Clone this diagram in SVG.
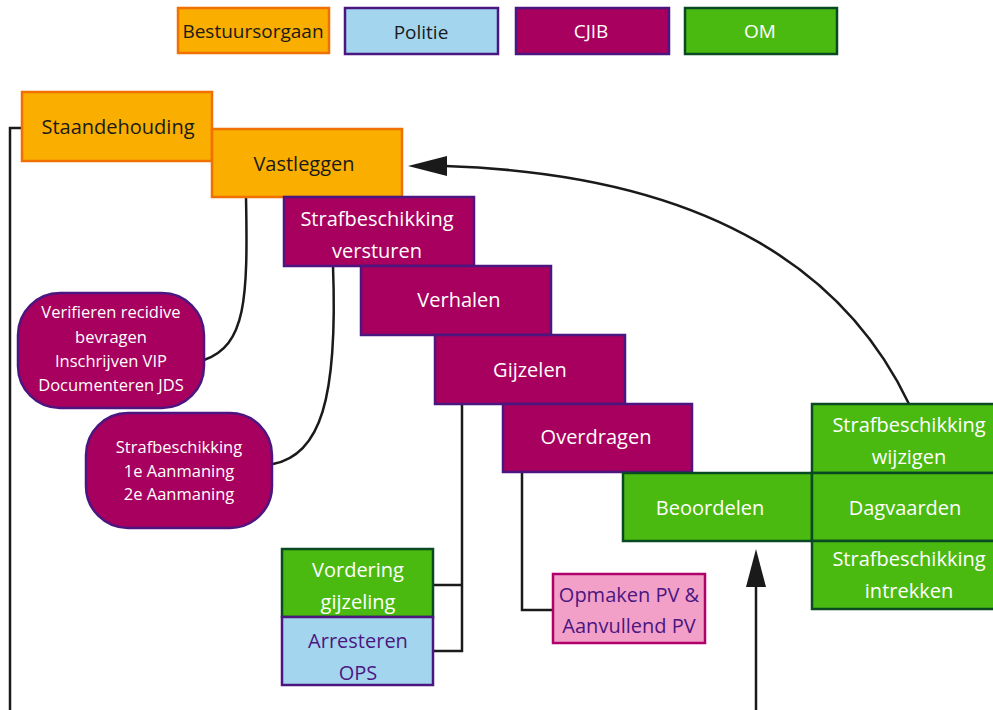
<svg xmlns="http://www.w3.org/2000/svg" width="993" height="710" viewBox="0 0 993 710">
<style>
text{font-family:"Open Sans","Noto Sans","Liberation Sans",sans-serif;font-size:20px;text-anchor:middle;dominant-baseline:central}
.sm{font-size:16.5px}
.lg{font-size:19px}
.or rect{fill:#F9AE00;stroke:#F07000;stroke-width:2.5}
.or text{fill:#1a1a1a}
.po rect{fill:#A3D6EE;stroke:#4B1680;stroke-width:2.5}
.po text{fill:#4B1680}
.cj rect{fill:#A8005E;stroke:#4B1680;stroke-width:2.5}
.cj text{fill:#fff}
.om rect{fill:#4BBA10;stroke:#0A4A22;stroke-width:2.5}
.om text{fill:#fff}
.pk rect{fill:#F2A0C8;stroke:#B0006A;stroke-width:2.5}
.pk text{fill:#4B1680}
.ln{fill:none;stroke:#1a1a1a;stroke-width:2.5}
.ah{fill:#1a1a1a}
</style>
<g id="legend">
<g id="leg-bestuursorgaan" class="or"><rect x="178" y="8" width="151" height="45"/><text class="lg" x="253" y="31" style="fill:#1a1a1a">Bestuursorgaan</text></g>
<g id="leg-politie" class="po"><rect x="345" y="8" width="153" height="46"/><text class="lg" x="421" y="32" style="fill:#1a1a1a">Politie</text></g>
<g id="leg-cjib" class="cj"><rect x="516" y="8" width="153" height="46"/><text class="lg" x="591" y="31">CJIB</text></g>
<g id="leg-om" class="om"><rect x="685" y="8" width="152" height="46"/><text class="lg" x="760" y="31">OM</text></g>
</g>
<g id="connectors">
<path class="ln" d="M22,128 H10 V710"/>
<path class="ln" d="M246,197 C248,300 246,345 204,360"/>
<path class="ln" d="M333,266 C338,400 320,455 273,464"/>
<path class="ln" d="M462,403 V651 H433 M462,585 H433"/>
<path class="ln" d="M522,472 V610 H553"/>
<path class="ln" d="M756,710 V585"/>
<polygon class="ah" points="756,549 746,587 766,587"/>
<path class="ln" d="M909,404 C850,280 720,175 445,166"/>
<polygon class="ah" points="408,166 447,156 447,176"/>
</g>
<g id="staandehouding" class="or"><rect x="22" y="92" width="190" height="69"/><text x="118" y="126">Staandehouding</text></g>
<g id="vastleggen" class="or"><rect x="212" y="129" width="190" height="68"/><text x="304" y="163">Vastleggen</text></g>
<g id="versturen" class="cj"><rect x="284" y="197" width="190" height="69"/><text x="377" y="218">Strafbeschikking</text><text x="377" y="250">versturen</text></g>
<g id="verhalen" class="cj"><rect x="361" y="266" width="190" height="69"/><text x="459" y="299">Verhalen</text></g>
<g id="gijzelen" class="cj"><rect x="435" y="335" width="190" height="69"/><text x="530" y="369">Gijzelen</text></g>
<g id="overdragen" class="cj"><rect x="503" y="404" width="189" height="68"/><text x="596" y="436">Overdragen</text></g>
<g id="beoordelen" class="om"><rect x="623" y="473" width="189" height="68"/><text x="710" y="507">Beoordelen</text></g>
<g id="wijzigen" class="om"><rect x="812" y="404" width="185" height="69"/><text x="909" y="424">Strafbeschikking</text><text x="909" y="456">wijzigen</text></g>
<g id="dagvaarden" class="om"><rect x="812" y="473" width="185" height="68"/><text x="905" y="507">Dagvaarden</text></g>
<g id="intrekken" class="om"><rect x="812" y="541" width="185" height="68"/><text x="909" y="558">Strafbeschikking</text><text x="909" y="590">intrekken</text></g>
<g id="verifieren" class="cj"><rect x="18" y="293" width="186" height="115" rx="42"/><text class="sm" x="111" y="311">Verifieren recidive</text><text class="sm" x="111" y="336">bevragen</text><text class="sm" x="111" y="360">Inschrijven VIP</text><text class="sm" x="111" y="384">Documenteren JDS</text></g>
<g id="aanmaning" class="cj"><rect x="86" y="413" width="186" height="115" rx="42"/><text class="sm" x="179" y="446">Strafbeschikking</text><text class="sm" x="179" y="470">1e Aanmaning</text><text class="sm" x="179" y="493">2e Aanmaning</text></g>
<g id="vordering" class="om"><rect x="282" y="549" width="151" height="68"/><text x="358" y="569">Vordering</text><text x="358" y="601">gijzeling</text></g>
<g id="arresteren" class="po"><rect x="282" y="617" width="151" height="68"/><text x="358" y="640">Arresteren</text><text x="358" y="672">OPS</text></g>
<g id="opmaken" class="pk"><rect x="553" y="574" width="152" height="69"/><text x="629" y="594">Opmaken PV &amp;</text><text x="629" y="625">Aanvullend PV</text></g>
</svg>
